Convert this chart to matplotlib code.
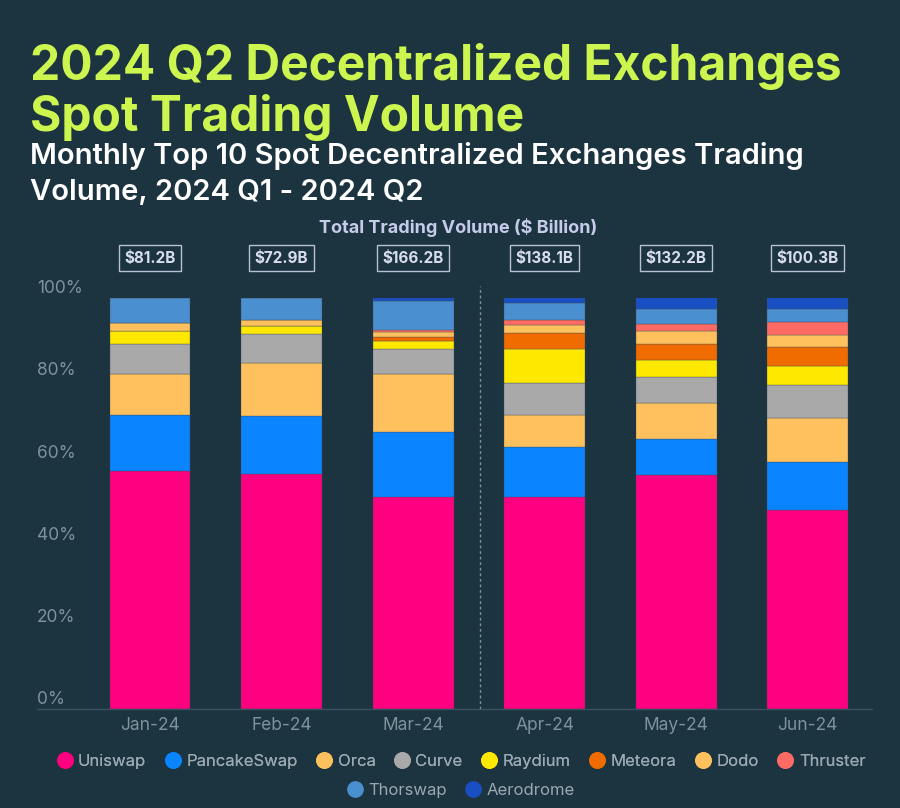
import matplotlib.pyplot as plt
from matplotlib.lines import Line2D
import numpy as np

# months and total volume
months = ["Jan-24", "Feb-24", "Mar-24", "Apr-24", "May-24", "Jun-24"]
totals = ["$81.2B", "$72.9B", "$166.2B", "$138.1B", "$132.2B", "$100.3B"]

# share of each exchange (%)
uniswap = [57.9, 57.3, 51.5, 51.5, 57.0, 48.4]
pancakeswap = [13.7, 14.0, 16.0, 12.3, 8.8, 11.8]
orca = [10.0, 13.0, 13.9, 7.8, 8.7, 10.7]
curve = [7.2, 7.0, 6.2, 7.6, 6.3, 7.9]
raydium = [3.2, 1.8, 1.9, 8.3, 4.0, 4.6]
meteora = [0.0, 0.0, 1.0, 4.1, 4.1, 4.7]
dodo = [1.8, 1.6, 1.2, 1.8, 3.0, 3.0]
thruster = [0.0, 0.0, 0.6, 1.2, 1.7, 3.1]
thorswap = [6.1, 5.4, 6.9, 4.3, 3.8, 3.2]
aerodrome = [0.0, 0.0, 0.8, 1.1, 2.8, 2.8]

names = ["Uniswap", "PancakeSwap", "Orca", "Curve", "Raydium", "Meteora",
         "Dodo", "Thruster", "Thorswap", "Aerodrome"]
series = [uniswap, pancakeswap, orca, curve, raydium, meteora, dodo,
          thruster, thorswap, aerodrome]
colors = ["#ff0080", "#0a84ff", "#ffc15e", "#a9a9a9", "#ffe800", "#f06c00",
          "#ffc15e", "#ff6b64", "#4a8fcf", "#1a4fc4"]

BG = "#1c3440"
GREY = "#7d939e"

fig = plt.figure(figsize=(9, 8.08), dpi=100, facecolor=BG)
ax = fig.add_axes([0.041, 0.1225, 0.928, 0.5087])
ax.set_facecolor(BG)

x = np.arange(len(months))
bottom = np.zeros(len(months))
for name, vals, col in zip(names, series, colors):
    vals = np.array(vals)
    ax.bar(x, vals, width=0.615, bottom=bottom, color=col,
           edgecolor="#3d4f58", linewidth=0.25)
    bottom += vals

ax.set_xlim(-0.86, 5.49)
ax.set_ylim(0, 100)
for s in ["top", "right", "left"]:
    ax.spines[s].set_visible(False)
ax.spines["bottom"].set_color("#3a5260")
ax.spines["bottom"].set_linewidth(1)
ax.set_yticks([])
ax.set_xticks(x)
ax.set_xticklabels(months, color=GREY, fontsize=12.5, family="Inter")
ax.tick_params(axis="x", length=0, pad=6)

# y labels sit just above their level, left aligned
for v in [0, 20, 40, 60, 80, 100]:
    ax.text(0.0, v + 0.2, f"{v}%", transform=ax.get_yaxis_transform(),
            ha="left", va="bottom", color=GREY, fontsize=12.5, family="Inter")

# dashed divider between Q1 and Q2
ax.plot([2.51, 2.51], [0, 103], ls=(0, (2, 2)), color="#7d939e",
        lw=1, clip_on=False)

# totals
for xi, t in zip(x, totals):
    ax.text(xi, 109.7, t, ha="center", va="center", color="#d8dcef",
            fontsize=11, fontweight="bold", family="Inter", clip_on=False,
            bbox=dict(boxstyle="square,pad=0.35", fc=BG, ec="#b8bfd6", lw=1))
fig.text(0.509, 0.718, "Total Trading Volume ($ Billion)", ha="center",
         va="center", color="#c6cbea", fontsize=13, fontweight="bold",
         family="Inter")

# titles
fig.text(0.033, 0.901, "2024 Q2 Decentralized Exchanges", color="#ccf550",
         fontsize=34.5, fontweight="bold", family="Inter", va="baseline")
fig.text(0.033, 0.838, "Spot Trading Volume", color="#ccf550",
         fontsize=34.5, fontweight="bold", family="Inter", va="baseline")
fig.text(0.033, 0.797, "Monthly Top 10 Spot Decentralized Exchanges Trading",
         color="white", fontsize=21, fontweight="semibold", family="Inter",
         va="baseline")
fig.text(0.033, 0.7525, "Volume, 2024 Q1 - 2024 Q2", color="white",
         fontsize=21, fontweight="semibold", family="Inter", va="baseline")

# legend in two centred rows
handles = [Line2D([], [], marker="o", ls="", markersize=11,
                  markerfacecolor=c, markeredgecolor=c) for c in colors]
leg_kw = dict(frameon=False, handletextpad=0.3, columnspacing=1.1,
              prop={"family": "Inter", "size": 12}, labelcolor="#9aa8b2",
              handlelength=1.0, loc="center")
leg1 = fig.legend(handles[:8], names[:8], ncol=8,
                  bbox_to_anchor=(0.512, 0.058), **leg_kw)
fig.add_artist(leg1)
fig.legend(handles[8:], names[8:], ncol=2,
           bbox_to_anchor=(0.512, 0.022), **leg_kw)

fig.savefig("out.png", dpi=100, facecolor=BG)
